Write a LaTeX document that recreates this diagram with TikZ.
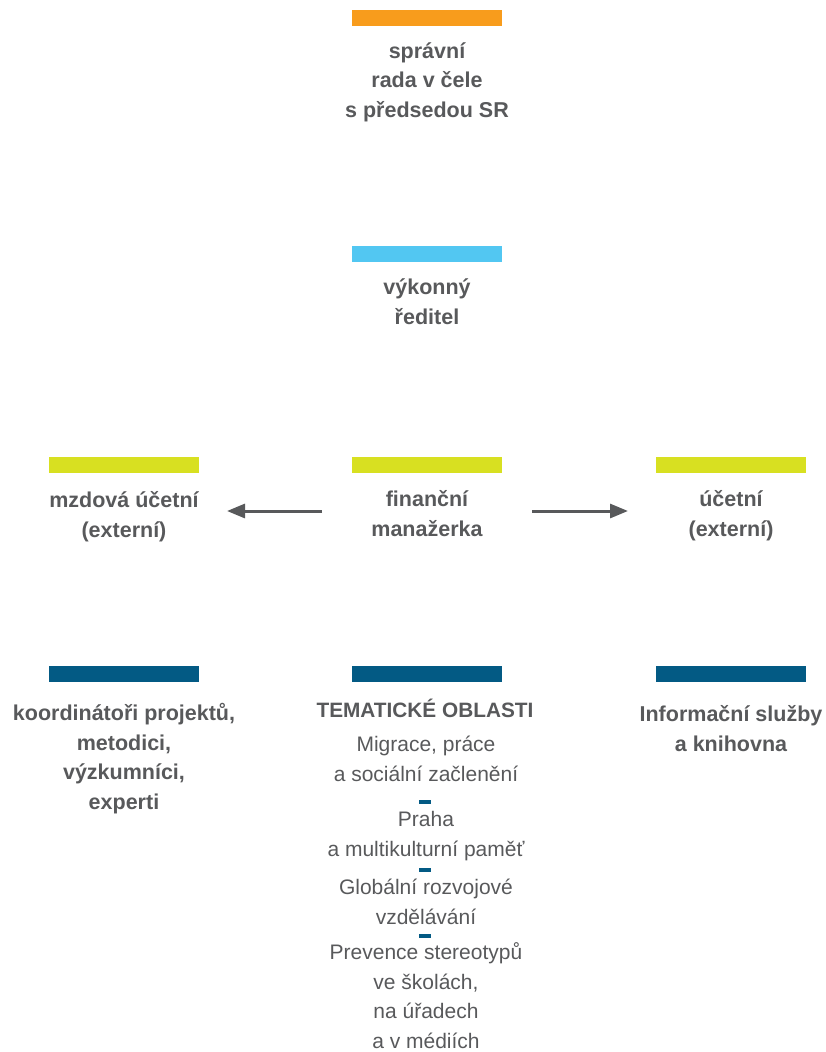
\documentclass[tikz,border=0pt]{standalone}
\usepackage{fontspec}
\setmainfont{Liberation Sans}
\usetikzlibrary{arrows.meta,positioning,calc}
\definecolor{radaorange}{HTML}{F89C1C}
\definecolor{reditelblue}{HTML}{52C7F2}
\definecolor{financegreen}{HTML}{D8E021}
\definecolor{oblastblue}{HTML}{035A84}
\definecolor{textgray}{HTML}{58595B}
\tikzset{
  bar/.style={minimum width=150pt, minimum height=16pt, inner sep=0pt, outer sep=0pt},
  role/.style={text=textgray, align=center, inner sep=0pt, minimum width=150pt, anchor=base,
    font=\fontsize{21.5}{29.4}\selectfont\bfseries},
  topic/.style={text=textgray, align=center, inner sep=0pt, anchor=base,
    font=\fontsize{21}{29.5}\selectfont},
  sepmark/.style={fill=oblastblue, minimum width=12pt, minimum height=4pt, inner sep=0pt},
  arr/.style={draw=textgray, line width=3pt, -{Triangle[length=18pt,width=14pt]}},
}
\begin{document}
\begin{tikzpicture}[x=1pt,y=-1pt]
\useasboundingbox (0,0) rectangle (825,1052);
% colour bars
\node[bar, fill=radaorange] (rada) at (427,18) {};
\node[bar, fill=reditelblue] (reditel) at (427,254) {};
\node[bar, fill=financegreen] (mzdova) at (124,465) {};
\node[bar, fill=financegreen] (financni) at (427,465) {};
\node[bar, fill=financegreen] (ucetni) at (731,465) {};
\node[bar, fill=oblastblue] (koord) at (124,674) {};
\node[bar, fill=oblastblue] (oblasti) at (427,674) {};
\node[bar, fill=oblastblue] (infosl) at (731,674) {};
% labels (placed at the baseline of the last line)
\node[role] (radatext) at (427,117) {správní\\rada v čele\\s předsedou SR};
\node[role] (reditext) at (427,324) {výkonný\\ředitel};
\node[role] (mzdtext) at (124,537) {mzdová účetní\\(externí)};
\node[role] (fintext) at (427,536) {finanční\\manažerka};
\node[role] (uctext) at (731,536) {účetní\\(externí)};
\node[role] (koordtext) at (124,809) {koordinátoři projektů,\\metodici,\\výzkumníci,\\experti};
\node[role, font=\fontsize{20.8}{29.5}\selectfont\bfseries] (obltext) at (425,717) {TEMATICKÉ OBLASTI};
\node[role] (infotext) at (731,751) {Informační služby\\a knihovna};
% themes
\node[topic] (migrace) at (426,781) {Migrace, práce\\a sociální začlenění};
\node[sepmark] (sepa) at (425,802) {};
\node[topic] (praha) at (426,856) {Praha\\a multikulturní paměť};
\node[sepmark] (sepb) at (425,870) {};
\node[topic] (globalni) at (426,924) {Globální rozvojové\\vzdělávání};
\node[sepmark] (sepc) at (425,936) {};
\node[topic] (prevence) at (426,1048) {Prevence stereotypů\\ve školách,\\na úřadech\\a v médiích};
% arrows
\draw[arr, shorten <=30pt, shorten >=28pt] ([yshift=-46pt]financni.west) -- ([yshift=-46pt]mzdova.east);
\draw[arr, shorten <=30pt, shorten >=28pt] ([yshift=-46pt]financni.east) -- ([yshift=-46pt]ucetni.west);
\end{tikzpicture}
\end{document}
